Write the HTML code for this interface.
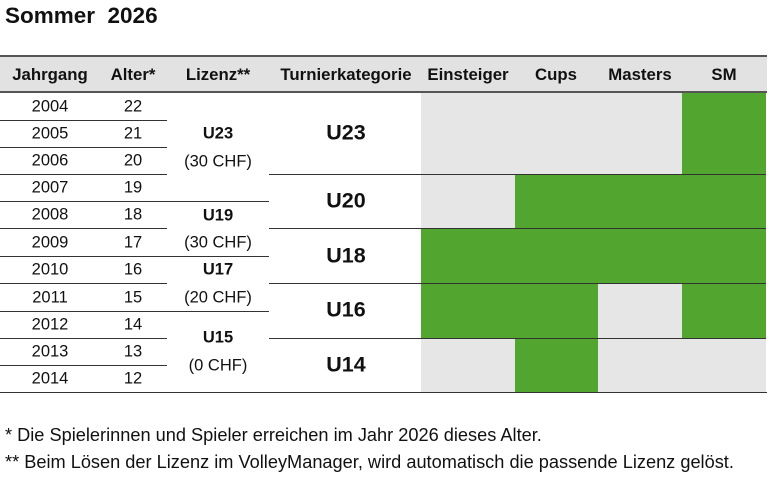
<!DOCTYPE html>
<html><head><meta charset="utf-8"><style>
body{margin:0;width:770px;height:481px;background:#fff;position:relative;overflow:hidden;font-family:"Liberation Sans",Arial,sans-serif;color:#111}
div{position:absolute}
.t{text-align:center;white-space:nowrap;transform:translate(-50%,-50%)}
.h{font-weight:bold;font-size:16.8px}
.n{font-size:16.5px}
.b{font-weight:bold;font-size:16.5px}
.c{font-weight:bold;font-size:21.5px}
.l{height:1px;background:#333}
.g{background:#52a630}
.e{background:#e6e6e6}
</style></head><body>
<div style="left:5px;top:3px;font-weight:bold;font-size:22.5px">Sommer&nbsp; 2026</div>
<div style="left:0;top:55px;width:767px;height:2px;background:#555"></div>
<div style="left:0;top:57px;width:767px;height:34px;background:#e2e2e2"></div>
<div style="left:0;top:91px;width:767px;height:2px;background:#555"></div>
<div class="t h" style="left:50px;top:75px">Jahrgang</div>
<div class="t h" style="left:133px;top:75px">Alter*</div>
<div class="t h" style="left:218px;top:75px">Lizenz**</div>
<div class="t h" style="left:346px;top:75px">Turnierkategorie</div>
<div class="t h" style="left:468px;top:75px">Einsteiger</div>
<div class="t h" style="left:556px;top:75px">Cups</div>
<div class="t h" style="left:640px;top:75px">Masters</div>
<div class="t h" style="left:724px;top:75px">SM</div>

<div class="e" style="left:421px;top:93px;width:261px;height:81px"></div>
<div class="g" style="left:682px;top:93px;width:84px;height:81px"></div>
<div class="e" style="left:421px;top:174px;width:94px;height:54px"></div>
<div class="g" style="left:515px;top:174px;width:251px;height:54px"></div>
<div class="g" style="left:421px;top:228px;width:345px;height:55px"></div>
<div class="g" style="left:421px;top:283px;width:177px;height:55px"></div>
<div class="e" style="left:598px;top:283px;width:84px;height:55px"></div>
<div class="g" style="left:682px;top:283px;width:84px;height:55px"></div>
<div class="e" style="left:421px;top:338px;width:94px;height:54px"></div>
<div class="g" style="left:515px;top:338px;width:83px;height:54px"></div>
<div class="e" style="left:598px;top:338px;width:168px;height:54px"></div>

<div class="l" style="left:0;top:120px;width:167px"></div>
<div class="l" style="left:0;top:147px;width:167px"></div>
<div class="l" style="left:0;top:174px;width:167px"></div>
<div class="l" style="left:269px;top:174px;width:497px"></div>
<div class="l" style="left:0;top:201px;width:269px"></div>
<div class="l" style="left:0;top:228px;width:167px"></div>
<div class="l" style="left:269px;top:228px;width:497px"></div>
<div class="l" style="left:0;top:256px;width:269px"></div>
<div class="l" style="left:0;top:283px;width:167px"></div>
<div class="l" style="left:269px;top:283px;width:497px"></div>
<div class="l" style="left:0;top:311px;width:269px"></div>
<div class="l" style="left:0;top:338px;width:167px"></div>
<div class="l" style="left:269px;top:338px;width:497px"></div>
<div class="l" style="left:0;top:365px;width:167px"></div>
<div class="l" style="left:0;top:392px;width:767px"></div>

<div class="t n" style="left:50px;top:107px">2004</div><div class="t n" style="left:133px;top:107px">22</div>
<div class="t n" style="left:50px;top:134px">2005</div><div class="t n" style="left:133px;top:134px">21</div>
<div class="t n" style="left:50px;top:161px">2006</div><div class="t n" style="left:133px;top:161px">20</div>
<div class="t n" style="left:50px;top:188px">2007</div><div class="t n" style="left:133px;top:188px">19</div>
<div class="t n" style="left:50px;top:215px">2008</div><div class="t n" style="left:133px;top:215px">18</div>
<div class="t n" style="left:50px;top:243px">2009</div><div class="t n" style="left:133px;top:243px">17</div>
<div class="t n" style="left:50px;top:270px">2010</div><div class="t n" style="left:133px;top:270px">16</div>
<div class="t n" style="left:50px;top:298px">2011</div><div class="t n" style="left:133px;top:298px">15</div>
<div class="t n" style="left:50px;top:325px">2012</div><div class="t n" style="left:133px;top:325px">14</div>
<div class="t n" style="left:50px;top:352px">2013</div><div class="t n" style="left:133px;top:352px">13</div>
<div class="t n" style="left:50px;top:379px">2014</div><div class="t n" style="left:133px;top:379px">12</div>

<div class="t b" style="left:218px;top:134px">U23</div><div class="t n" style="left:218px;top:162px">(30 CHF)</div>
<div class="t b" style="left:218px;top:216px">U19</div><div class="t n" style="left:218px;top:243px">(30 CHF)</div>
<div class="t b" style="left:218px;top:270px">U17</div><div class="t n" style="left:218px;top:298px">(20 CHF)</div>
<div class="t b" style="left:218px;top:338px">U15</div><div class="t n" style="left:218px;top:366px">(0 CHF)</div>

<div class="t c" style="left:346px;top:133px">U23</div>
<div class="t c" style="left:346px;top:201px">U20</div>
<div class="t c" style="left:346px;top:256px">U18</div>
<div class="t c" style="left:346px;top:310px">U16</div>
<div class="t c" style="left:346px;top:365px">U14</div>

<div style="left:5px;top:425px;font-size:18.2px;white-space:nowrap">* Die Spielerinnen und Spieler erreichen im Jahr 2026 dieses Alter.</div>
<div style="left:5px;top:452px;font-size:18.2px;white-space:nowrap">** Beim Lösen der Lizenz im VolleyManager, wird automatisch die passende Lizenz gelöst.</div>
</body></html>
